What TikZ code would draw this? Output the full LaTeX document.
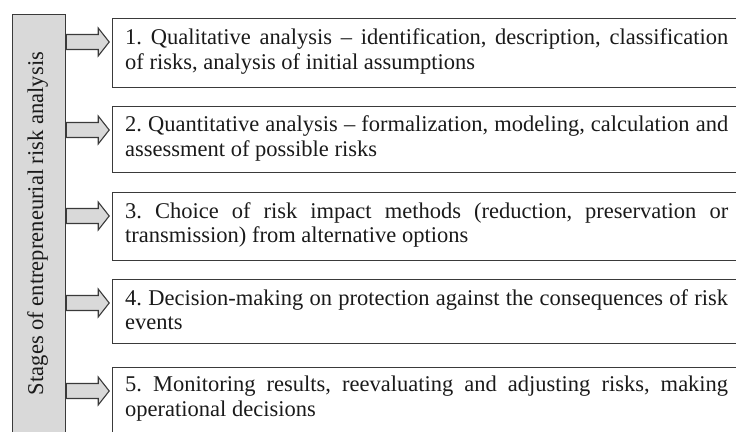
\documentclass[tikz,border=0pt]{standalone}
\usepackage{graphicx}
\usepackage{fontspec}
\setmainfont{Liberation Serif}
\definecolor{barfill}{HTML}{D9D9D9}
\definecolor{edge}{HTML}{3A3A3A}
\definecolor{ink}{HTML}{1A1A1A}
\newsavebox\mylinebox
\newcommand{\fullline}[1]{\sbox\mylinebox{#1}\ifdim\wd\mylinebox>603pt\relax\resizebox{603pt}{\height}{#1}\else\makebox[603pt][s]{#1}\fi}
\begin{document}
\begin{tikzpicture}[x=1pt,y=1pt,
  box/.style={draw=edge, line width=1.2pt, rectangle, inner sep=0pt, minimum width=640pt, anchor=north west},
  txt/.style={text=ink, inner sep=0pt, anchor=base west, text width=603pt, align=justify,
    font=\fontsize{22.5}{24.3}\selectfont\frenchspacing},
  bararrow/.style={draw=edge, fill=barfill, line width=1.1pt, line join=miter},
  bar/.style={draw=edge, fill=barfill, line width=1.2pt, rectangle, inner sep=0pt, anchor=north west, minimum width=53pt}]
\useasboundingbox (0,0) rectangle (736,431);
\clip (0,0) rectangle (736,431);
% gray bar
\node[bar, minimum height=430pt] (bar) at (12,417) {};
\node[text=ink, rotate=90, font=\fontsize{22.5}{24}\selectfont, inner sep=0pt] (bartxt) at (37.5,207.5) {\resizebox{343pt}{!}{Stages of entrepreneurial risk analysis}};
% boxes
\node[box, minimum height=69pt] (b1) at (112,413) {};
\node[box, minimum height=66pt] (b2) at (112,325) {};
\node[box, minimum height=68pt] (b3) at (112,239) {};
\node[box, minimum height=64pt] (b4) at (112,152) {};
\node[box, minimum height=80pt] (b5) at (112,64) {};
% texts
\node[txt] (t1) at ([xshift=13pt,yshift=-27pt]b1.north west) {\fullline{1. Qualitative analysis – identification, description, classification}\\of risks, analysis of initial assumptions};
\node[txt] (t2) at ([xshift=13pt,yshift=-26pt]b2.north west) {\fullline{2. Quantitative analysis – formalization, modeling, calculation and}\\assessment of possible risks};
\node[txt] (t3) at ([xshift=13pt,yshift=-26.5pt]b3.north west) {\fullline{3. Choice of risk impact methods (reduction, preservation or}\\transmission) from alternative options};
\node[txt] (t4) at ([xshift=13pt,yshift=-26.5pt]b4.north west) {\fullline{4. Decision-making on protection against the consequences of risk}\\events};
\node[txt] (t5) at ([xshift=13pt,yshift=-25pt]b5.north west) {\fullline{5. Monitoring results, reevaluating and adjusting risks, making}\\operational decisions};
% block arrows
\foreach \b in {b1,b2,b3,b4,b5}{
  \path (bar.east |- \b.north) ++(0,-24) coordinate (a\b);
  \draw[bararrow] (a\b) ++(0,7.5) -- ++(32,0) -- ++(0,6.5) -- ++(11,-14) -- ++(-11,-14) -- ++(0,6.5) -- ++(-32,0) -- cycle;
}
\end{tikzpicture}
\end{document}
